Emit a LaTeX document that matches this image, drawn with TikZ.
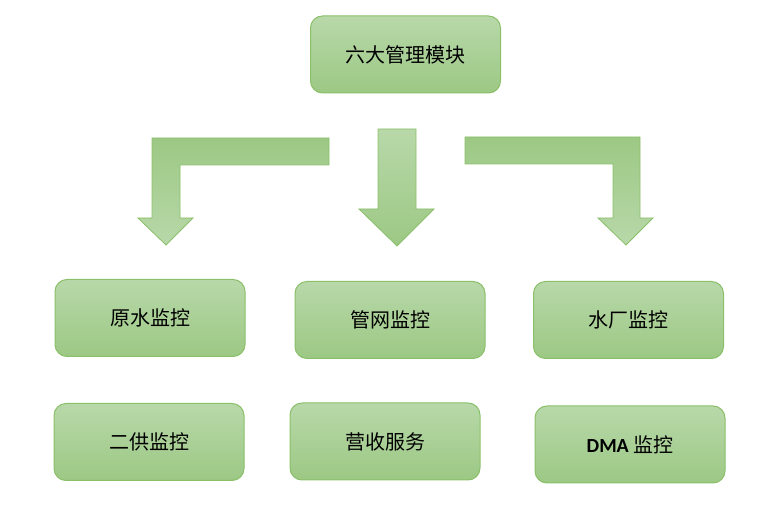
\documentclass[tikz,border=0pt]{standalone}
\usepackage{fontspec}
\setmainfont{Carlito}
\newfontfamily\cjk{Noto Sans CJK SC}
\usetikzlibrary{positioning}
\definecolor{gtop}{HTML}{B8D8A9}
\definecolor{gbot}{HTML}{9CC884}
\definecolor{gline}{HTML}{8AC06A}
\tikzset{
  modbox/.style={draw=gline,top color=gtop,bottom color=gbot,rounded corners=12pt,line width=1pt,minimum width=190pt,minimum height=77pt,font=\cjk\fontsize{20}{24}\selectfont,inner sep=0pt},
  downarr/.style={draw=gline,line width=0.8pt,top color=gtop,bottom color=gbot},
  bendarr/.style={draw=gline,line width=0.8pt,top color=gbot,bottom color=gtop},
}
\begin{document}
\begin{tikzpicture}[x=1pt,y=-1pt]
  \useasboundingbox (0,0) rectangle (780,518);
  % top module
  \node[modbox] (top) at (405.5,54.5) {六大管理模块};
  % block arrows
  \path[bendarr] (329,138) -- (152,138) -- (152,218) -- (138,218) -- (166,245) -- (193,218) -- (180,218) -- (180,165) -- (329,165) -- cycle;
  \path[downarr] (378,129) -- (416,129) -- (416,209) -- (434,209) -- (397,246) -- (359,209) -- (378,209) -- cycle;
  \path[bendarr] (465,137) -- (640,137) -- (640,218) -- (653,218) -- (626,245) -- (598,218) -- (613,218) -- (613,164) -- (465,164) -- cycle;
  % second row
  \node[modbox] (raw) at (150,318) {原水监控};
  \node[modbox] (pipe) at (390,320) {管网监控};
  \node[modbox] (plant) at (628.5,320) {水厂监控};
  % third row
  \node[modbox] (supply) at (149,442) {二供监控};
  \node[modbox] (sales) at (385,441.5) {营收服务};
  \node[modbox] (dma) at (630,444.5) {{\normalfont\bfseries DMA} 监控};
\end{tikzpicture}
\end{document}
